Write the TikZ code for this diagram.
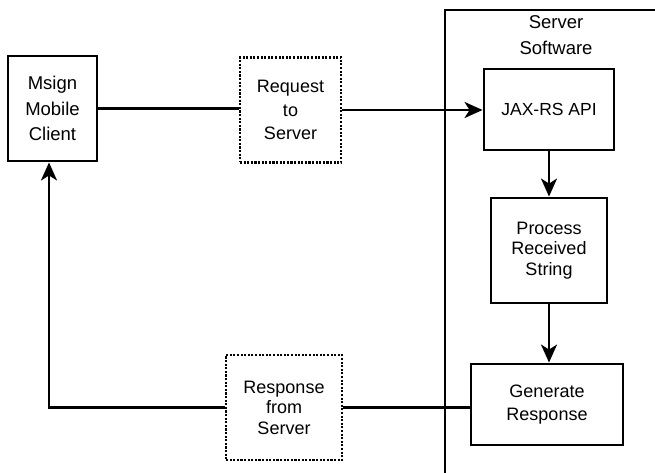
\documentclass[tikz,border=0pt]{standalone}
\usepackage{fontspec}
\setmainfont{Liberation Sans}
\usetikzlibrary{arrows.meta}

\tikzset{
  box/.style={draw, line width=2.9pt, rectangle, align=center, inner sep=0pt},
  dotbox/.style={draw, line width=2.6pt, dash pattern=on 2.1pt off 1.5pt, rectangle, align=center, inner sep=0pt},
  link/.style={line width=2.4pt},
  arrow/.style={link, -{Stealth[length=18pt, width=16pt, inset=5pt]}},
  frame/.style={line width=2.5pt},
  tighttxt/.style={font=\fontsize{18}{20.5}\selectfont},
  midtxt/.style={font=\fontsize{18}{23.5}\selectfont},
  widetxt/.style={font=\fontsize{18.5}{25.5}\selectfont},
}

\begin{document}
\begin{tikzpicture}[x=1pt, y=-1pt]
  \useasboundingbox (0,0) rectangle (655,473);

  % server software frame (open on the right and bottom)
  \draw[frame] (445,474) -- (445,10) -- (656,10);
  \node[widetxt, align=center] (srvlabel) at (556,35) {Server\\Software};

  % client and server-side steps
  \node[box, widetxt, minimum width=89pt, minimum height=105pt] (msign) at (52.5,108.5) {Msign\\Mobile\\Client};
  \node[box, font=\fontsize{17.5}{20}\selectfont, minimum width=130pt, minimum height=81pt] (jax) at (549,109.5) {JAX-RS API};
  \node[box, tighttxt, minimum width=116pt, minimum height=105pt] (proc) at (549,250.5) {Process\\Received\\String};
  \node[box, midtxt, minimum width=152pt, minimum height=81pt] (gen) at (547,404.5) {Generate\\Response};

  % messages exchanged over the network
  \node[dotbox, midtxt, minimum width=101pt, minimum height=105pt] (req) at (290.5,110) {Request\\to\\Server};
  \node[dotbox, tighttxt, minimum width=116pt, minimum height=105pt] (resp) at (284,407.5) {Response\\from\\Server};

  % request path
  \draw[link] (msign.east) -- (msign.east -| req.west);
  \draw[arrow] (req.east) -- (req.east -| jax.west);
  \draw[arrow] (jax.south) -- (proc.north);
  \draw[arrow] (proc.south) -- (proc.south |- gen.north);

  % response path
  \coordinate (clientin) at ([xshift=-3.5pt]msign.south);
  \draw[link] (resp.east) -- (resp.east -| gen.west);
  \draw[arrow] (resp.west) -| (clientin);
\end{tikzpicture}
\end{document}
